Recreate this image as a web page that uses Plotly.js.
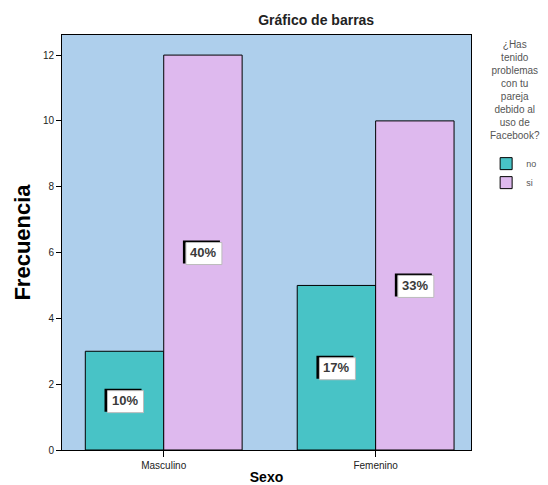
<!DOCTYPE html>
<html>
<head>
<meta charset="utf-8">
<script src="https://cdn.plot.ly/plotly-3.0.1.min.js"></script>
<style>html,body{margin:0;padding:0;background:#fff;}#chart{width:548px;height:485px;}</style>
</head>
<body>
<div id="chart"></div>
<script>
const categories = ["Masculino", "Femenino"];
const seriesNames = ["no", "si"];
const valuesNo = [3, 5];
const valuesSi = [12, 10];
const pctNo = ["10%", "17%"];
const pctSi = ["40%", "33%"];
const yTicks = [0, 2, 4, 6, 8, 10, 12];
const legendTitle = "¿Has<br>tenido<br>problemas<br>con tu<br>pareja<br>debido al<br>uso de<br>Facebook?";

const colors = {no: "#48C3C6", si: "#DEB9EE"};
const bargap = 0.26;
const barW = (1 - bargap) / 2;

const traces = [
  {type: "bar", name: seriesNames[0], x: categories, y: valuesNo,
   marker: {color: colors.no, line: {color: "#000", width: 1}}},
  {type: "bar", name: seriesNames[1], x: categories, y: valuesSi,
   marker: {color: colors.si, line: {color: "#000", width: 1}}}
];

const annotations = [];
const shapes = [];
function addLabel(idx, offset, val, txt) {
  const xc = idx + offset, yc = val / 2;
  const common = {type: "rect", xref: "x", yref: "y", xsizemode: "pixel", ysizemode: "pixel",
                  xanchor: xc, yanchor: yc, layer: "above"};
  shapes.push(Object.assign({}, common, {x0: -20, x1: 17, y0: -11, y1: 12,
      fillcolor: "#000", line: {width: 0}}));
  shapes.push(Object.assign({}, common, {x0: -17, x1: 19, y0: -12, y1: 10,
      fillcolor: "#fff", line: {color: "#bbb", width: 1}}));
  annotations.push({xref: "x", yref: "y", x: xc, y: yc, showarrow: false, text: txt,
    font: {family: "Arial, Liberation Sans, sans-serif", size: 13, color: "#3a3a3a", weight: "bold"}});
}
categories.forEach((c, i) => {
  addLabel(i, -barW / 2, valuesNo[i], pctNo[i]);
  addLabel(i, barW / 2, valuesSi[i], pctSi[i]);
});

annotations.push({xref: "paper", yref: "paper", x: 1.108, y: 0.995, xanchor: "center", yanchor: "top",
  showarrow: false, align: "center", text: legendTitle,
  font: {family: "Arial, Liberation Sans, sans-serif", size: 10, color: "#555"}});

const layout = {
  width: 548, height: 485,
  margin: {l: 62, r: 77, t: 35, b: 35, autoexpand: false},
  paper_bgcolor: "#fff",
  plot_bgcolor: "#AECFEC",
  font: {family: "Arial, Liberation Sans, sans-serif", size: 10, color: "#000"},
  title: {text: "Gráfico de barras", x: 0.577, xref: "container", y: 0.958, yanchor: "middle",
          font: {size: 14, weight: "bold", color: "#222"}},
  barmode: "group",
  bargap: bargap,
  bargroupgap: 0,
  showlegend: true,
  legend: {
    x: 1.037, xanchor: "left", y: 0.725, yanchor: "top",
    font: {size: 9, color: "#555"},
    itemwidth: 30, tracegroupgap: 0, bgcolor: "rgba(0,0,0,0)"
  },
  xaxis: {
    type: "category", range: [-0.48, 1.45],
    ticks: "outside", ticklen: 6, tickcolor: "#000", showgrid: false,
    showline: true, linecolor: "#000", mirror: true, zeroline: false,
    tickfont: {size: 10, color: "#222"},
    title: {text: "Sexo", font: {size: 14, weight: "bold"}, standoff: 6}
  },
  yaxis: {
    range: [0, 12.61], tickvals: yTicks, ticktext: yTicks.map(String),
    ticks: "outside", ticklen: 5, tickcolor: "#000", showgrid: false,
    showline: true, linecolor: "#000", mirror: true, zeroline: false,
    tickfont: {size: 10, color: "#222"},
    title: {text: "Frecuencia", font: {size: 22, weight: "bold"}, standoff: 6}
  },
  shapes: shapes,
  annotations: annotations
};

Plotly.newPlot("chart", traces, layout, {displayModeBar: false, staticPlot: true});
</script>
</body>
</html>
